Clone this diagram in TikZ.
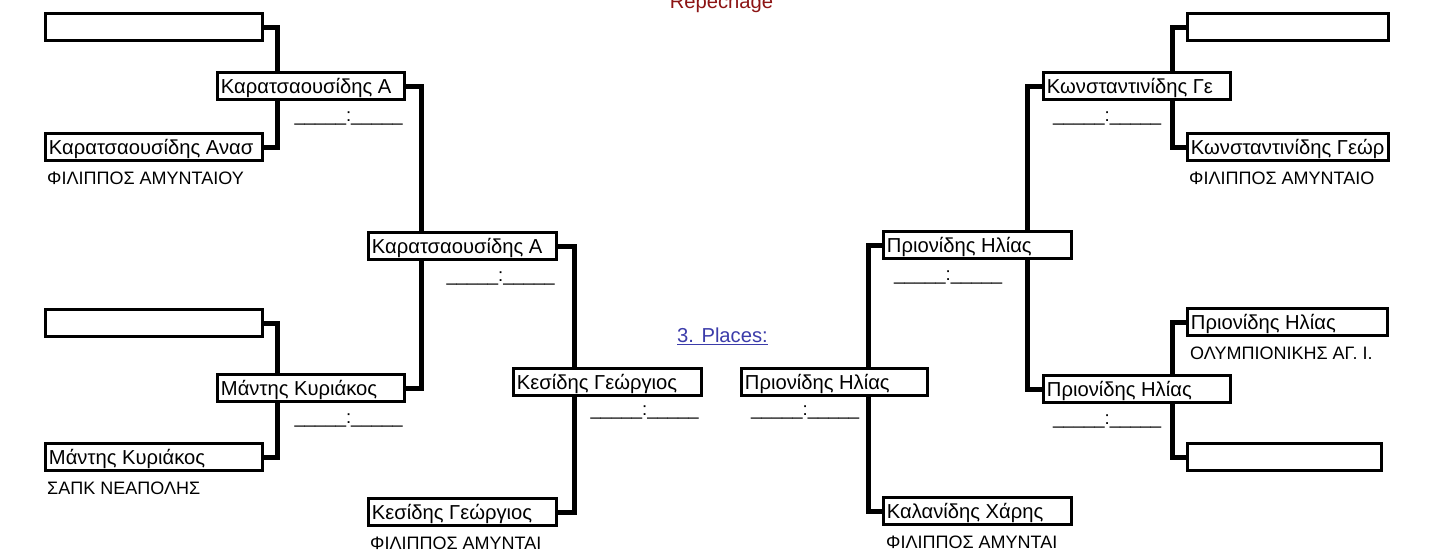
\documentclass[tikz,border=0pt]{standalone}
\usepackage{fontspec}
\setmainfont{Liberation Sans}
\usetikzlibrary{calc,backgrounds}
\definecolor{repred}{RGB}{140,20,20}
\definecolor{plblue}{RGB}{60,60,170}
\newcommand\nmfont{\fontsize{20.2}{24}\selectfont}
\newcommand\clfont{\fontsize{18}{21}\selectfont}
\newcommand\scfont{\fontsize{18.5}{22}\selectfont}
\newcommand\bt[2]{\makebox[#1][l]{#2}}
\begin{document}
\begin{tikzpicture}[x=1pt,y=-1pt,
  bx/.style={draw, line width=3.3pt, fill=white, anchor=north west, inner xsep=3.3pt,
    inner ysep=0pt, minimum height=26.7pt, text height=20.5pt, text depth=6pt, font=\nmfont},
  conn/.style={line width=5pt},
  scoreL/.style={font=\scfont, inner sep=0pt, anchor=base east},
  scoreR/.style={font=\scfont, inner sep=0pt, anchor=base west},
  club/.style={font=\clfont, inner sep=0pt, anchor=base west}]
\useasboundingbox (0,0) rectangle (1440,552);
% ---------- left half ----------
\node[bx] (L1) at (44,12)  {\bt{210pt}{}};
\node[bx] (L2) at (44,132) {\bt{210pt}{Καρατσαουσίδης Ανασ}};
\node[bx] (L3) at (44,308) {\bt{210pt}{}};
\node[bx] (L4) at (44,442) {\bt{210pt}{Μάντης Κυριάκος}};
\node[bx] (A1) at (216,71)  {\bt{180pt}{Καρατσαουσίδης Α}};
\node[bx] (A2) at (216,373) {\bt{180pt}{Μάντης Κυριάκος}};
\node[bx] (B1) at (367,231) {\bt{181pt}{Καρατσαουσίδης Α}};
\node[bx] (B2) at (367,497) {\bt{181pt}{Κεσίδης Γεώργιος}};
\node[bx] (C1) at (512,367) {\bt{181pt}{Κεσίδης Γεώργιος}};
\node[club] (cL2) at ($(L2.south west)+(3,22)$) {ΦΙΛΙΠΠΟΣ ΑΜΥΝΤΑΙΟΥ};
\node[club] (cL4) at ($(L4.south west)+(3,22)$) {ΣΑΠΚ ΝΕΑΠΟΛΗΣ};
\node[club] (cB2) at ($(B2.south west)+(3,22)$) {ΦΙΛΙΠΠΟΣ ΑΜΥΝΤΑΙ};
\node[scoreL] (sA1) at ($(A1.south east)+(-3,20)$) {\_\_\_\_\_:\_\_\_\_\_};
\node[scoreL] (sA2) at ($(A2.south east)+(-3,20)$) {\_\_\_\_\_:\_\_\_\_\_};
\node[scoreL] (sB1) at ($(B1.south east)+(-3,20)$) {\_\_\_\_\_:\_\_\_\_\_};
\node[scoreL] (sC1) at ($(C1.south east)+(-4,18)$) {\_\_\_\_\_:\_\_\_\_\_};
% ---------- right half ----------
\node[bx] (R1) at (1186,12)  {\bt{194pt}{}};
\node[bx] (R2) at (1186,132) {\bt{194pt}{Κωνσταντινίδης Γεώρ}};
\node[bx] (R3) at (1186,307) {\bt{193pt}{Πριονίδης Ηλίας}};
\node[bx] (R4) at (1186,442) {\bt{187pt}{}};
\node[bx] (RA1) at (1042,71)  {\bt{180pt}{Κωνσταντινίδης Γε}};
\node[bx] (RA2) at (1042,374) {\bt{180pt}{Πριονίδης Ηλίας}};
\node[bx] (RB1) at (882,230) {\bt{181pt}{Πριονίδης Ηλίας}};
\node[bx] (RB2) at (882,496) {\bt{181pt}{Καλανίδης Χάρης}};
\node[bx] (RC1) at (740,367) {\bt{179pt}{Πριονίδης Ηλίας}};
\node[club] (cR2) at ($(R2.south west)+(3,22)$) {ΦΙΛΙΠΠΟΣ ΑΜΥΝΤΑΙΟ};
\node[club] (cR3) at ($(R3.south west)+(4,22)$) {ΟΛΥΜΠΙΟΝΙΚΗΣ ΑΓ. Ι.};
\node[club] (cRB2) at ($(RB2.south west)+(4,22)$) {ΦΙΛΙΠΠΟΣ ΑΜΥΝΤΑΙ};
\node[scoreR] (sRA1) at ($(RA1.south west)+(11,20)$) {\_\_\_\_\_:\_\_\_\_\_};
\node[scoreR] (sRA2) at ($(RA2.south west)+(11,20)$) {\_\_\_\_\_:\_\_\_\_\_};
\node[scoreR] (sRB1) at ($(RB1.south west)+(12,20)$) {\_\_\_\_\_:\_\_\_\_\_};
\node[scoreR] (sRC1) at ($(RC1.south west)+(11,18)$) {\_\_\_\_\_:\_\_\_\_\_};
% ---------- titles ----------
\node[font=\nmfont, text=repred, inner sep=0pt, anchor=base] (rep) at (721.5,8.5) {Repechage};
\node[font=\nmfont, text=plblue, inner sep=0pt, anchor=base west] (pl) at (677,342) {3. Places:};
\draw[plblue, line width=1.3pt] ([yshift=-2.5pt]pl.base west) -- ([yshift=-2.5pt]pl.base east);
% ---------- connectors ----------
\begin{scope}[on background layer]
\fill[white] (0,0) rectangle (1440,552);
\draw[conn] (L1.east) -- ++(14,0) |- (L2.east);
\draw[conn] (L3.east) -- ++(14,0) |- (L4.east);
\draw[conn] (A1.east) -- ++(16,0) |- (A2.east);
\draw[conn] (B1.east) -- ++(17,0) |- (B2.east);
\draw[conn] (R1.west) -- ++(-14,0) |- (R2.west);
\draw[conn] (R3.west) -- ++(-14,0) |- (R4.west);
\draw[conn] (RA1.west) -- ++(-15,0) |- (RA2.west);
\draw[conn] (RB1.west) -- ++(-14,0) |- (RB2.west);
\end{scope}
\end{tikzpicture}
\end{document}
